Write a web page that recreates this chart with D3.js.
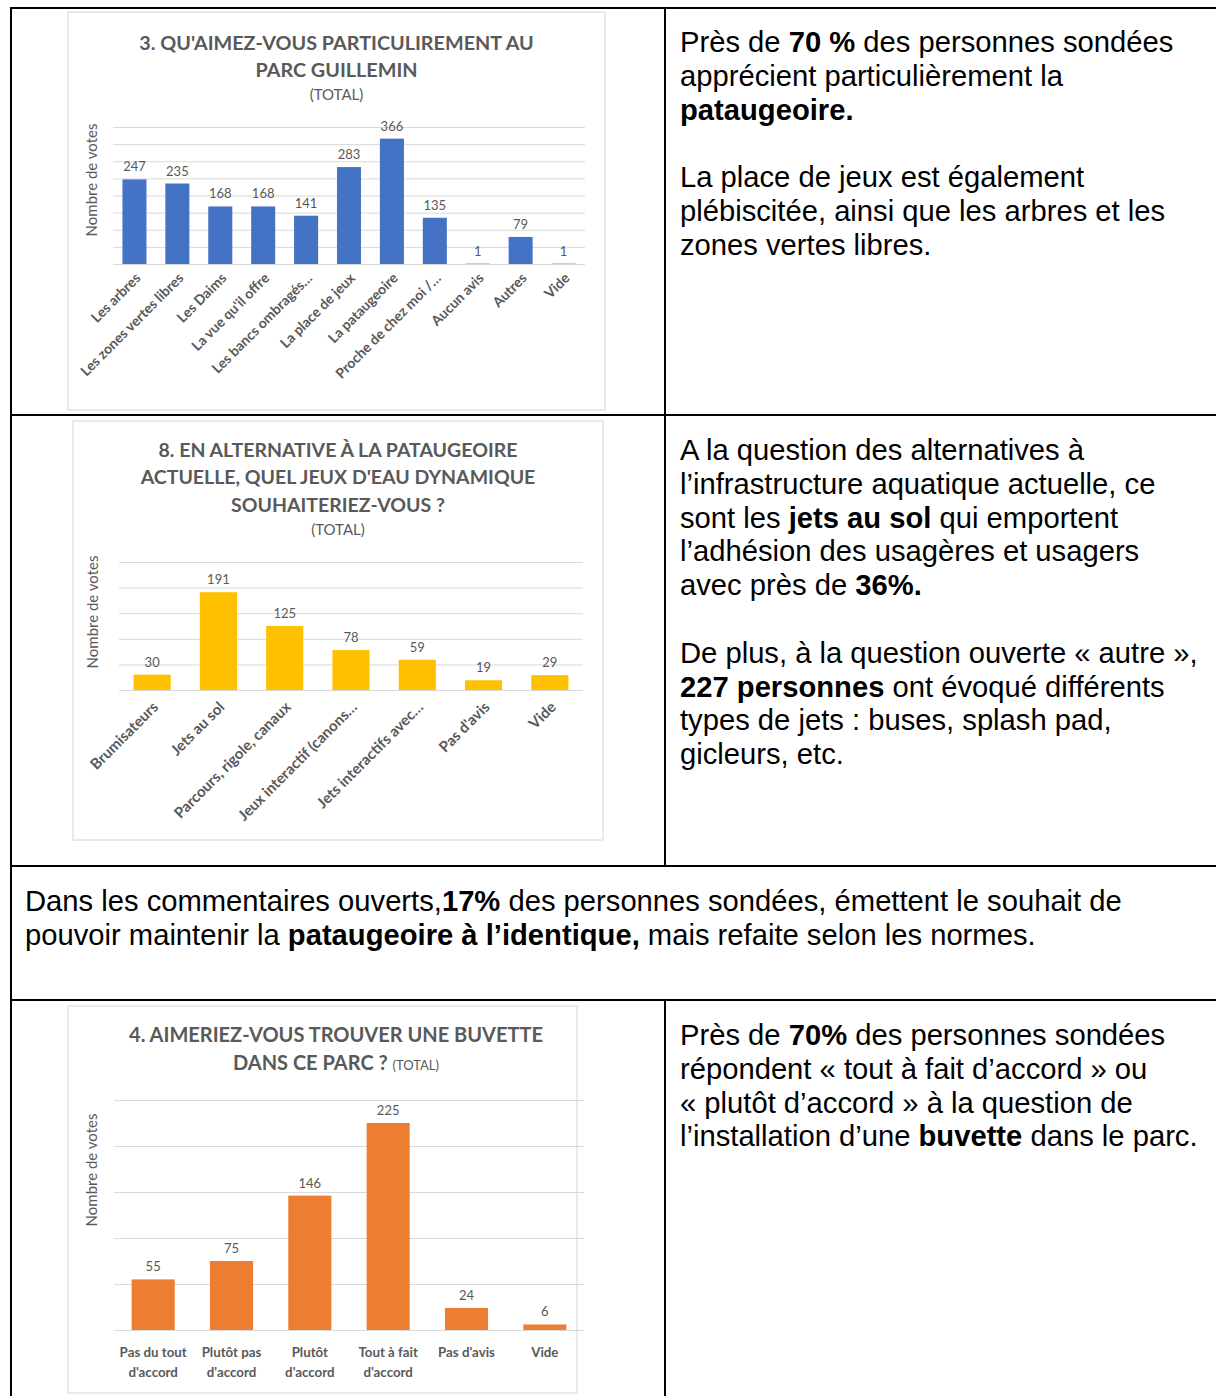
<!DOCTYPE html>
<html>
<head>
<meta charset="utf-8">
<script src="https://cdn.jsdelivr.net/npm/d3@7"></script>
<style>
  body { margin: 0; background: #fff; }
  svg { display: block; }
</style>
</head>
<body>
<script>
// --- data ---
const parcCategories = ['Les arbres', 'Les zones vertes libres', 'Les Daims', "La vue qu'il offre",
  'Les bancs ombragés…', 'La place de jeux', 'La pataugeoire', 'Proche de chez moi /…',
  'Aucun avis', 'Autres', 'Vide'];
const parcVotes = [247, 235, 168, 168, 141, 283, 366, 135, 1, 79, 1];

const jeuxCategories = ['Brumisateurs', 'Jets au sol', 'Parcours, rigole, canaux',
  'Jeux interactif (canons…', 'Jets interactifs avec…', "Pas d'avis", 'Vide'];
const jeuxVotes = [30, 191, 125, 78, 59, 19, 29];

const buvetteCategories = ["Pas du tout\nd'accord", "Plutôt pas\nd'accord", "Plutôt\nd'accord",
  "Tout à fait\nd'accord", "Pas d'avis", 'Vide'];
const buvetteVotes = [55, 75, 146, 225, 24, 6];

const yLabel = 'Nombre de votes';

// paragraphs: each line is a list of [text, bold]
const para1 = [
  [['Près de ', 0], ['70 %', 1], [' des personnes sondées', 0]],
  [['apprécient particulièrement la', 0]],
  [['pataugeoire.', 1]],
  [],
  [['La place de jeux est également', 0]],
  [['plébiscitée, ainsi que les arbres et les', 0]],
  [['zones vertes libres.', 0]]
];
const para2 = [
  [['A la question des alternatives à', 0]],
  [['l’infrastructure aquatique actuelle, ce', 0]],
  [['sont les ', 0], ['jets au sol', 1], [' qui emportent', 0]],
  [['l’adhésion des usagères et usagers', 0]],
  [['avec près de ', 0], ['36%.', 1]],
  [],
  [['De plus, à la question ouverte « autre »,', 0]],
  [['227 personnes', 1], [' ont évoqué différents', 0]],
  [['types de jets : buses, splash pad,', 0]],
  [['gicleurs, etc.', 0]]
];
const para3 = [
  [['Dans les commentaires ouverts,', 0], ['17%', 1], [' des personnes sondées, émettent le souhait de', 0]],
  [['pouvoir maintenir la ', 0], ['pataugeoire à l’identique,', 1], [' mais refaite selon les normes.', 0]]
];
const para4 = [
  [['Près de ', 0], ['70%', 1], [' des personnes sondées', 0]],
  [['répondent « tout à fait d’accord » ou', 0]],
  [['« plutôt d’accord » à la question de', 0]],
  [['l’installation d’une ', 0], ['buvette', 1], [' dans le parc.', 0]]
];

const W = 1216, H = 1396;
const chartFont = 'Lato, "Open Sans", sans-serif';
const grey = '#595959';

const svg = d3.select('body').append('svg')
  .attr('width', W)
  .attr('height', H);

function drawChart(cfg) {
  const g = svg.append('g');

  g.append('rect')
    .attr('x', cfg.box[0]).attr('y', cfg.box[1])
    .attr('width', cfg.box[2]).attr('height', cfg.box[3])
    .attr('fill', '#fff')
    .attr('stroke', '#e3e3e3')
    .attr('stroke-width', 1.5);

  const cx = cfg.titleX || cfg.box[0] + cfg.box[2] / 2;
  cfg.title.forEach(t => {
    const txt = g.append('text')
      .attr('x', cx).attr('y', t.y)
      .attr('text-anchor', 'middle')
      .attr('font-family', chartFont)
      .attr('font-weight', t.light ? 'normal' : 'bold')
      .attr('font-size', t.size)
      .attr('fill', grey)
      .text(t.text);
    if (t.small) {
      txt.append('tspan').attr('font-size', 13).attr('font-weight', 'normal').text(t.small);
    }
  });

  const x = d3.scaleBand()
    .domain(cfg.categories)
    .range([cfg.plot[0], cfg.plot[2]])
    .paddingInner(cfg.pad)
    .paddingOuter(cfg.pad / 2);

  const y = d3.scaleLinear()
    .domain([0, cfg.ymax])
    .range([cfg.plot[3], cfg.plot[1]]);

  // gridlines
  g.append('g')
    .attr('transform', `translate(${cfg.plot[0]},0)`)
    .call(d3.axisLeft(y)
      .tickValues(d3.range(0, cfg.ymax + 1, cfg.step))
      .tickSize(-(cfg.plot[2] - cfg.plot[0]))
      .tickFormat(''))
    .call(a => a.select('.domain').remove())
    .call(a => a.selectAll('line').attr('stroke', '#d9d9d9').attr('stroke-width', 1));

  const bw = x.bandwidth();
  g.selectAll('rect.bar')
    .data(cfg.values)
    .enter()
    .append('rect')
    .attr('class', 'bar')
    .attr('x', (d, i) => x(cfg.categories[i]))
    .attr('y', d => y(d))
    .attr('width', bw)
    .attr('height', d => y(0) - y(d))
    .attr('fill', cfg.color);

  g.selectAll('text.val')
    .data(cfg.values)
    .enter()
    .append('text')
    .attr('class', 'val')
    .attr('x', (d, i) => x(cfg.categories[i]) + bw / 2)
    .attr('y', d => y(d) - 8)
    .attr('text-anchor', 'middle')
    .attr('font-family', chartFont)
    .attr('font-size', 13)
    .attr('fill', grey)
    .text(d => d);

  // y axis title
  g.append('text')
    .attr('transform', `translate(${cfg.yLabelX},${cfg.yLabelY}) rotate(-90)`)
    .attr('text-anchor', 'middle')
    .attr('font-family', chartFont)
    .attr('font-size', 15)
    .attr('fill', grey)
    .text(yLabel);

  // category axis
  const xa = g.append('g')
    .attr('transform', `translate(0,${cfg.plot[3]})`)
    .call(d3.axisBottom(x).tickSize(0).tickPadding(0));
  xa.select('.domain').remove();
  xa.selectAll('text')
    .attr('font-family', chartFont)
    .attr('font-size', cfg.labelSize)
    .attr('font-weight', 'bold')
    .attr('fill', grey);

  if (cfg.rotate) {
    xa.selectAll('text')
      .attr('x', 0).attr('y', 0).attr('dy', 0)
      .attr('text-anchor', 'end')
      .attr('transform', `translate(7,${cfg.labelDrop}) rotate(-45)`);
  } else {
    xa.selectAll('text').each(function(d) {
      const t = d3.select(this).text('').attr('y', 0).attr('dy', 0);
      d.split('\n').forEach((line, i) => {
        t.append('tspan').attr('x', 0).attr('y', 27 + i * 20).text(line);
      });
    });
  }
}

drawChart({
  box: [68, 12, 537, 398],
  title: [
    { text: "3. QU'AIMEZ-VOUS PARTICULIREMENT AU", y: 50, size: 19.8 },
    { text: 'PARC GUILLEMIN', y: 77, size: 19.8 },
    { text: '(TOTAL)', y: 100, size: 15, light: true }
  ],
  categories: parcCategories,
  values: parcVotes,
  plot: [113, 127, 585, 264],
  ymax: 400, step: 50,
  pad: 0.44,
  color: '#4472C4',
  yLabelX: 97, yLabelY: 180,
  labelSize: 14,
  labelDrop: 15,
  rotate: true
});

drawChart({
  box: [73, 421, 530, 419],
  title: [
    { text: '8. EN ALTERNATIVE À LA PATAUGEOIRE', y: 457, size: 19.5 },
    { text: "ACTUELLE, QUEL JEUX D'EAU DYNAMIQUE", y: 484, size: 19.5 },
    { text: 'SOUHAITERIEZ-VOUS ?', y: 512, size: 19.5 },
    { text: '(TOTAL)', y: 535, size: 15, light: true }
  ],
  categories: jeuxCategories,
  values: jeuxVotes,
  plot: [119, 562, 583, 690],
  ymax: 250, step: 50,
  pad: 0.44,
  color: '#FFC000',
  yLabelX: 98, yLabelY: 612,
  labelSize: 15,
  labelDrop: 18,
  rotate: true
});

drawChart({
  box: [68, 1006, 509, 387],
  titleX: 336,
  title: [
    { text: '4. AIMERIEZ-VOUS TROUVER UNE BUVETTE', y: 1042, size: 20 },
    { text: 'DANS CE PARC ? ', small: '(TOTAL)', y: 1070, size: 20 }
  ],
  categories: buvetteCategories,
  values: buvetteVotes,
  plot: [114, 1100, 584, 1330],
  ymax: 250, step: 50,
  pad: 0.45,
  color: '#ED7D31',
  yLabelX: 97, yLabelY: 1170,
  labelSize: 13.3,
  rotate: false
});

// --- paragraphs ---
function drawPara(x, y0, lines) {
  lines.forEach((segs, i) => {
    if (!segs.length) return;
    const t = svg.append('text')
      .attr('x', x).attr('y', y0 + i * 33.8)
      .attr('font-family', '"Liberation Sans", Arial, sans-serif')
      .attr('font-size', 29.2)
      .attr('fill', '#000');
    segs.forEach(s => {
      t.append('tspan')
        .attr('font-weight', s[1] ? 'bold' : 'normal')
        .text(s[0]);
    });
  });
}

drawPara(680, 52, para1);
drawPara(680, 460, para2);
drawPara(25, 911, para3);
drawPara(680, 1045, para4);

// --- table borders ---
const rules = [
  [10, 8, W, 8],
  [10, 415, W, 415],
  [10, 866, W, 866],
  [10, 1000, W, 1000],
  [11, 8, 11, H],
  [665, 8, 665, 866],
  [665, 1000, 665, H]
];
svg.selectAll('line.rule')
  .data(rules)
  .enter()
  .append('line')
  .attr('class', 'rule')
  .attr('x1', d => d[0]).attr('y1', d => d[1])
  .attr('x2', d => d[2]).attr('y2', d => d[3])
  .attr('stroke', '#000')
  .attr('stroke-width', 2);
</script>
</body>
</html>
